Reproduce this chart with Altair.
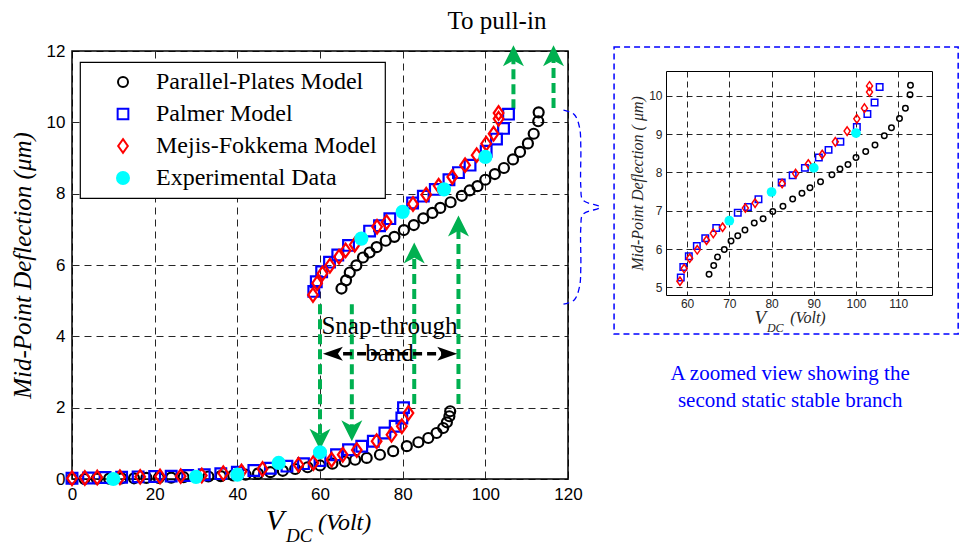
import altair as alt
import pandas as pd

SERIES = ["Parallel-Plates Model", "Palmer Model", "Mejis-Fokkema Model", "Experimental Data"]

# ---- first (lower) stable branch ----
pp_lo_v = [0, 3, 6, 9, 12, 15, 18, 21, 24, 27, 30, 33, 36, 39, 42, 45, 48, 51, 54, 57, 60, 63, 66,
           68.5, 71.3, 74.5, 77.7, 81.0, 83.8, 86.2, 88.2, 89.8, 90.7, 91.3, 91.5]
pp_lo_d = [0.0, 0.0, 0.01, 0.01, 0.02, 0.02, 0.03, 0.03, 0.04, 0.05, 0.06, 0.07, 0.08, 0.1, 0.12, 0.15,
           0.19, 0.23, 0.28, 0.33, 0.38, 0.43, 0.49, 0.54, 0.59, 0.68, 0.78, 0.92, 1.03, 1.15, 1.29,
           1.43, 1.59, 1.76, 1.9]
pa_lo_v = [0, 4, 8, 12, 16, 20, 24, 28, 32, 36, 40, 44, 48, 52, 56, 60, 64.0, 66.9, 70.1, 72.9,
           75.7, 78.2, 79.8, 80.2]
pa_lo_d = [0.02, 0.03, 0.04, 0.05, 0.06, 0.07, 0.08, 0.1, 0.12, 0.15, 0.19, 0.24, 0.3, 0.36, 0.43,
           0.52, 0.68, 0.82, 0.92, 1.06, 1.29, 1.48, 1.71, 2.0]
mf_lo_v = [0, 3.1, 6.1, 11.6, 16.5, 21.3, 26.3, 31.4, 36.6, 41.0, 46.1, 54.8, 58.4, 62.8, 65.5,
           68.9, 73.7, 77.3, 79.8, 81.4]
mf_lo_d = [0.02, 0.03, 0.04, 0.05, 0.06, 0.07, 0.08, 0.1, 0.16, 0.21, 0.28, 0.4, 0.45, 0.54, 0.68,
           0.81, 1.06, 1.24, 1.48, 1.85]

# ---- second (upper) stable branch ----
pp_up_v = [65.2, 66.3, 67.2, 68.8, 70.4, 72.0, 73.7, 75.9, 78.0, 80.3, 82.7, 85.0, 87.2, 89.1, 91.6,
           94.3, 96.2, 98.1, 100.0, 102.3, 104.5, 106.7, 108.4, 110.3, 111.7, 112.8, 112.9]
pp_up_d = [5.34, 5.57, 5.79, 5.99, 6.21, 6.35, 6.50, 6.68, 6.79, 6.98, 7.12, 7.31, 7.46, 7.60, 7.76,
           7.94, 8.09, 8.21, 8.39, 8.55, 8.72, 8.96, 9.17, 9.41, 9.68, 10.03, 10.28]
pa_up_v = [58.5, 59.1, 60.4, 62.3, 64.3, 66.9, 72.0, 74.4, 76.9, 82.4, 85.0, 87.9, 91.2, 93.5, 96.3,
           100.2, 102.7, 104.4, 105.6]
pa_up_d = [5.26, 5.53, 5.81, 6.08, 6.28, 6.55, 6.95, 7.10, 7.30, 7.74, 7.93, 8.12, 8.39, 8.59, 8.80,
           9.19, 9.53, 9.83, 10.23]
mf_up_v = [58.3, 59.3, 60.6, 62.4, 64.6, 66.2, 68.4, 73.8, 76.1, 82.5, 85.7, 88.7, 92.0, 95.1, 97.9,
           100.2, 102.0, 103.2, 103.2]
mf_up_d = [5.16, 5.49, 5.76, 5.98, 6.23, 6.41, 6.57, 7.07, 7.20, 7.71, 7.97, 8.22, 8.47, 8.80, 9.08,
           9.40, 9.68, 10.10, 10.26]

# ---- experiment ----
ex_lo_v = [10, 30, 40, 50, 60]
ex_lo_d = [0.0, 0.06, 0.12, 0.45, 0.75]
ex_up_v = [70, 80, 90, 100]
ex_up_d = [6.74, 7.49, 8.12, 9.03]

# ---- annotations (data coordinates) ----
green_v = [60.0, 67.7, 82.8, 93.5, 106.8, 116.5]
green_from = [4.9, 4.9, 2.1, 2.1, 10.37, 10.40]
green_tip = [0.82, 1.06, 6.63, 7.39, 12.16, 12.16]
green_dir = ["down", "down", "up", "up", "up", "up"]

band_y = 3.51
band_left = 60.7
band_right = 93.2

brace_v = [118.9, 121.5, 122.8, 123.1, 123.1, 123.6, 127.8, 123.6, 123.1, 123.1, 122.8, 121.5, 118.9]
brace_d = [10.34, 10.22, 9.85, 9.3, 8.2, 7.82, 7.62, 7.42, 7.05, 5.95, 5.4, 5.02, 4.9]

GREEN = "#00b050"
diamond_path = "M 0 -1.2 L 0.85 0 L 0 1.2 L -0.85 0 Z"
down_head = "M 0 0 L -1 -2 L 0 -1.45 L 1 -2 Z"
up_head = "M 0 0 L -1 2 L 0 1.45 L 1 2 Z"
left_head = "M 0 0 L 2 -0.7 L 1.5 0 L 2 0.7 Z"
right_head = "M 0 0 L -2 -0.7 L -1.5 0 L -2 0.7 Z"


def frame(vs, ds, name):
    return pd.DataFrame({"v": vs, "d": ds, "series": name})


main_df = pd.concat([
    frame(pp_lo_v, pp_lo_d, SERIES[0]), frame(pp_up_v, pp_up_d, SERIES[0]),
    frame(pa_lo_v, pa_lo_d, SERIES[1]), frame(pa_up_v, pa_up_d, SERIES[1]),
    frame(mf_lo_v, mf_lo_d, SERIES[2]), frame(mf_up_v, mf_up_d, SERIES[2]),
    frame(ex_lo_v, ex_lo_d, SERIES[3]), frame(ex_up_v, ex_up_d, SERIES[3]),
], ignore_index=True)

xs = alt.Scale(domain=[0, 120], nice=False, zero=False)
ys = alt.Scale(domain=[0, 12], nice=False, zero=False)

leg = alt.Legend(title=None, orient="none", legendX=8, legendY=11,
                 labelFont="Liberation Serif", labelFontSize=24, labelColor="black",
                 strokeColor="black", fillColor="white", padding=8, rowPadding=8,
                 symbolOffset=23, labelOffset=21, symbolStrokeWidth=2, labelLimit=500,
                 cornerRadius=0)

x_axis = alt.Axis(values=[0, 20, 40, 60, 80, 100, 120], title=None, grid=True, ticks=False,
                  domain=False, labelFont="Liberation Sans", labelFontSize=17, labelColor="black",
                  labelPadding=7, labelFlush=False, gridColor="black", gridDash=[7, 5],
                  gridWidth=1, gridOpacity=0.85)
y_axis = alt.Axis(values=[0, 2, 4, 6, 8, 10, 12], title="Mid-Point Deflection (μm)", grid=True,
                  ticks=False, domain=False, labelFont="Liberation Sans", labelFontSize=17,
                  labelColor="black", labelPadding=7, labelFlush=False, gridColor="black",
                  gridDash=[7, 5], gridWidth=1, gridOpacity=0.85,
                  titleFont="Liberation Serif", titleFontStyle="italic", titleFontWeight="normal",
                  titleFontSize=25, titleColor="black", titlePadding=11)

points = alt.Chart(main_df).mark_point(opacity=1, strokeWidth=2.2).encode(
    x=alt.X("v:Q", scale=xs, axis=x_axis),
    y=alt.Y("d:Q", scale=ys, axis=y_axis),
    shape=alt.Shape("series:N", scale=alt.Scale(domain=SERIES, range=["circle", "square", diamond_path, "circle"]), legend=leg),
    stroke=alt.Stroke("series:N", scale=alt.Scale(domain=SERIES, range=["#000000", "#0000ff", "#ff0000", "#00ffff"]), legend=leg),
    fill=alt.Fill("series:N", scale=alt.Scale(domain=SERIES, range=["transparent", "transparent", "transparent", "#00ffff"]), legend=leg),
    size=alt.Size("series:N", scale=alt.Scale(domain=SERIES, range=[100, 144, 136, 200]), legend=leg),
)

gdf = pd.DataFrame({"v": green_v, "from": green_from, "tip": green_tip, "dir": green_dir})
gdf["end"] = [t + (0.4 if d == "down" else -0.4) for t, d in zip(green_tip, green_dir)]

g_lines = alt.Chart(gdf).mark_rule(color=GREEN, strokeWidth=4, strokeDash=[10, 5]).encode(
    x=alt.X("v:Q", scale=xs), y=alt.Y("from:Q", scale=ys), y2="end:Q")
g_down = alt.Chart(gdf).transform_filter(alt.datum.dir == "down").mark_point(
    shape=down_head, filled=True, color=GREEN, opacity=1, size=441).encode(
    x=alt.X("v:Q", scale=xs), y=alt.Y("tip:Q", scale=ys))
g_up = alt.Chart(gdf).transform_filter(alt.datum.dir == "up").mark_point(
    shape=up_head, filled=True, color=GREEN, opacity=1, size=441).encode(
    x=alt.X("v:Q", scale=xs), y=alt.Y("tip:Q", scale=ys))

bdf = pd.DataFrame({"a": [band_left + 1.5], "b": [band_right - 1.5], "y": [band_y]})
b_line = alt.Chart(bdf).mark_rule(color="black", strokeWidth=3.5, strokeDash=[9, 5]).encode(
    x=alt.X("a:Q", scale=xs), x2="b:Q", y=alt.Y("y:Q", scale=ys))
bh = pd.DataFrame({"v": [band_left, band_right], "y": [band_y, band_y], "k": ["l", "r"]})
b_left = alt.Chart(bh).transform_filter(alt.datum.k == "l").mark_point(
    shape=left_head, filled=True, color="black", opacity=1, size=400).encode(
    x=alt.X("v:Q", scale=xs), y=alt.Y("y:Q", scale=ys))
b_right = alt.Chart(bh).transform_filter(alt.datum.k == "r").mark_point(
    shape=right_head, filled=True, color="black", opacity=1, size=400).encode(
    x=alt.X("v:Q", scale=xs), y=alt.Y("y:Q", scale=ys))

tdf = pd.DataFrame({"v": [102.8, 76.8, 76.8], "d": [12.62, 4.07, 3.30],
                    "t": ["To pull-in", "Snap-through", "band"]})
texts = alt.Chart(tdf).mark_text(font="Liberation Serif", fontSize=25, color="black",
                                 align="center", baseline="alphabetic").encode(
    x=alt.X("v:Q", scale=xs), y=alt.Y("d:Q", scale=ys), text="t:N")

xt = pd.DataFrame({"v": [51.3, 51.8, 59.5], "d": [-1.43, -1.77, -1.43],
                   "t": ["V", "DC", "(Volt)"], "k": ["a", "b", "c"]})
xt_v = alt.Chart(xt).transform_filter(alt.datum.k == "a").mark_text(
    font="Liberation Serif", fontStyle="italic", fontSize=30, align="right", baseline="alphabetic",
    color="black").encode(x=alt.X("v:Q", scale=xs), y=alt.Y("d:Q", scale=ys), text="t:N")
xt_dc = alt.Chart(xt).transform_filter(alt.datum.k == "b").mark_text(
    font="Liberation Serif", fontStyle="italic", fontSize=19, align="left", baseline="alphabetic",
    color="black").encode(x=alt.X("v:Q", scale=xs), y=alt.Y("d:Q", scale=ys), text="t:N")
xt_volt = alt.Chart(xt).transform_filter(alt.datum.k == "c").mark_text(
    font="Liberation Serif", fontStyle="italic", fontSize=24, align="left", baseline="alphabetic",
    color="black").encode(x=alt.X("v:Q", scale=xs), y=alt.Y("d:Q", scale=ys), text="t:N")

brdf = pd.DataFrame({"v": brace_v, "d": brace_d, "i": list(range(len(brace_v)))})
brace = alt.Chart(brdf).mark_line(color="#0000ff", strokeWidth=1.3, strokeDash=[6, 4],
                                  interpolate="catmull-rom").encode(
    x=alt.X("v:Q", scale=xs), y=alt.Y("d:Q", scale=ys), order="i:Q")

main = alt.layer(g_lines, g_down, g_up, points, b_line, b_left, b_right, texts,
                 xt_v, xt_dc, xt_volt, brace).properties(
    width=496, height=428, view=alt.ViewBackground(stroke="black", strokeWidth=1.5))

# ---------------- inset ----------------
ixs = alt.Scale(domain=[55, 118], nice=False, zero=False)
iys = alt.Scale(domain=[4.8, 10.65], nice=False, zero=False)
ix_axis = alt.Axis(values=[60, 70, 80, 90, 100, 110], title=None, grid=True, ticks=False,
                   domain=False, labelFont="Liberation Sans", labelFontSize=12,
                   labelColor="#262626", labelPadding=3, labelFlush=False, gridColor="black",
                   gridDash=[6, 4], gridWidth=1, gridOpacity=0.85)
iy_axis = alt.Axis(values=[5, 6, 7, 8, 9, 10], title="Mid-Point Deflection ( μm)", grid=True,
                   ticks=False, domain=False, labelFont="Liberation Sans", labelFontSize=12,
                   labelColor="#262626", labelPadding=4, labelFlush=False, gridColor="black",
                   gridDash=[6, 4], gridWidth=1, gridOpacity=0.85,
                   titleFont="Liberation Serif", titleFontStyle="italic", titleFontWeight="normal",
                   titleFontSize=16, titleColor="#262626", titlePadding=3)


def inset_layer(vs, ds, shape, color, size, filled=False, sw=1.5, axes=False):
    df = pd.DataFrame({"v": vs, "d": ds})
    if filled:
        m = alt.Chart(df).mark_point(shape=shape, filled=True, color=color, size=size, opacity=1)
    else:
        m = alt.Chart(df).mark_point(shape=shape, color=color, size=size, opacity=1, strokeWidth=sw)
    if axes:
        return m.encode(x=alt.X("v:Q", scale=ixs, axis=ix_axis), y=alt.Y("d:Q", scale=iys, axis=iy_axis))
    return m.encode(x=alt.X("v:Q", scale=ixs), y=alt.Y("d:Q", scale=iys))


i_pp = inset_layer(pp_up_v, pp_up_d, "circle", "#000000", 30, axes=True)
i_pa = inset_layer(pa_up_v, pa_up_d, "square", "#0000ff", 42)
i_mf = inset_layer(mf_up_v, mf_up_d, diamond_path, "#ff0000", 50)
i_ex = inset_layer(ex_up_v, ex_up_d, "circle", "#00ffff", 95, filled=True)

fr = pd.DataFrame({"a": [42.7], "b": [124.2], "c": [11.28], "e": [3.78]})
frame_rect = alt.Chart(fr).mark_rect(fillOpacity=0, stroke="#0000ff", strokeWidth=1.5,
                                     strokeDash=[6, 4]).encode(
    x=alt.X("a:Q", scale=ixs), x2="b:Q", y=alt.Y("c:Q", scale=iys), y2="e:Q")

cap = pd.DataFrame({"v": [84.4, 84.4], "d": [2.58, 1.88],
                    "t": ["A zoomed view showing the", "second static stable branch"]})
caption = alt.Chart(cap).mark_text(font="Liberation Serif", fontSize=21, color="#0000ff",
                                   align="center", baseline="alphabetic").encode(
    x=alt.X("v:Q", scale=ixs), y=alt.Y("d:Q", scale=iys), text="t:N")

ixt = pd.DataFrame({"v": [78.7, 78.9, 84.4], "d": [4.05, 3.83, 4.06],
                    "t": ["V", "DC", "(Volt)"], "k": ["a", "b", "c"]})
ixt_v = alt.Chart(ixt).transform_filter(alt.datum.k == "a").mark_text(
    font="Liberation Serif", fontStyle="italic", fontSize=19, align="right", baseline="alphabetic",
    color="#262626").encode(x=alt.X("v:Q", scale=ixs), y=alt.Y("d:Q", scale=iys), text="t:N")
ixt_dc = alt.Chart(ixt).transform_filter(alt.datum.k == "b").mark_text(
    font="Liberation Serif", fontStyle="italic", fontSize=12, align="left", baseline="alphabetic",
    color="#262626").encode(x=alt.X("v:Q", scale=ixs), y=alt.Y("d:Q", scale=iys), text="t:N")
ixt_volt = alt.Chart(ixt).transform_filter(alt.datum.k == "c").mark_text(
    font="Liberation Serif", fontStyle="italic", fontSize=16, align="left", baseline="alphabetic",
    color="#262626").encode(x=alt.X("v:Q", scale=ixs), y=alt.Y("d:Q", scale=iys), text="t:N")

inset = alt.layer(i_pp, i_pa, i_mf, i_ex, frame_rect, caption, ixt_v, ixt_dc, ixt_volt).properties(
    width=266, height=224, view=alt.ViewBackground(stroke="black", strokeWidth=1))

spacer = alt.Chart(pd.DataFrame({"a": [0]})).mark_point(opacity=0).encode(
    x=alt.value(0), y=alt.value(0)).properties(
    width=266, height=10, view=alt.ViewBackground(stroke="transparent"))

right_col = alt.vconcat(spacer, inset, spacing=10, bounds="flush")

chart = alt.hconcat(main, right_col, spacing=98, bounds="flush").properties(
    padding={"left": 1, "top": 0, "right": 0, "bottom": 0}
).configure_legend(strokeWidth=1.2).configure_view(stroke="black")

chart.save("out.html", embed_options={"renderer": "svg", "actions": False})
